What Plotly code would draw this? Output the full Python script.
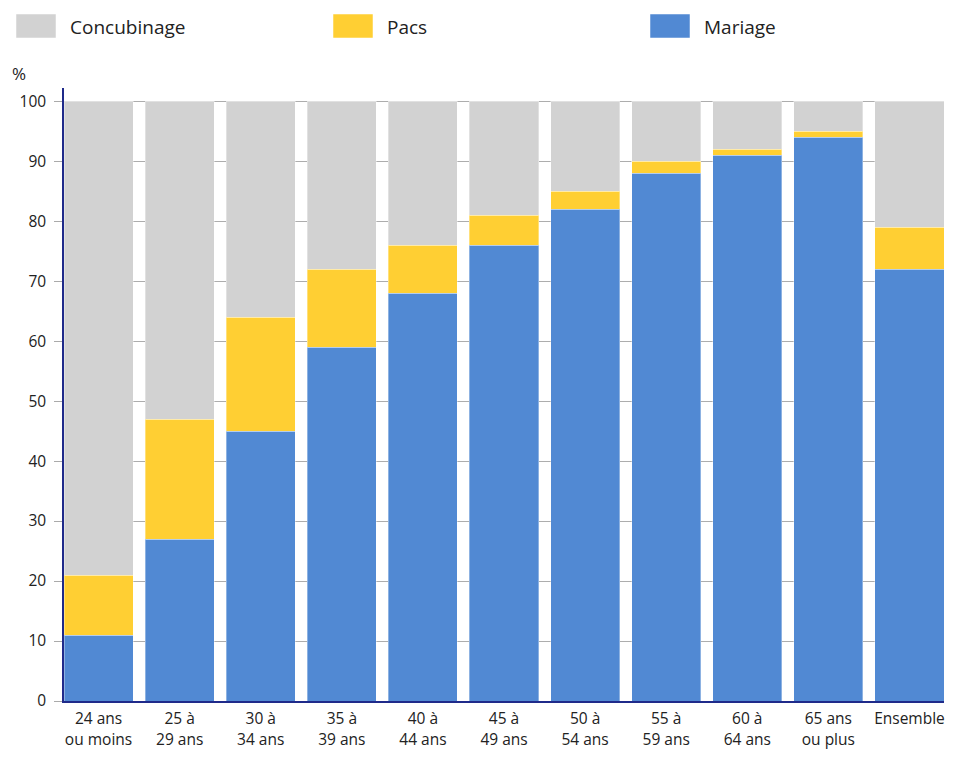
import plotly.graph_objects as go

categories = ["24 ans<br>ou moins", "25 à<br>29 ans", "30 à<br>34 ans", "35 à<br>39 ans",
              "40 à<br>44 ans", "45 à<br>49 ans", "50 à<br>54 ans", "55 à<br>59 ans",
              "60 à<br>64 ans", "65 ans<br>ou plus", "Ensemble"]
mariage = [11, 27, 45, 59, 68, 76, 82, 88, 91, 94, 72]
pacs = [10, 20, 19, 13, 8, 5, 3, 2, 1, 1, 7]
concubinage = [79, 53, 36, 28, 24, 19, 15, 10, 8, 5, 21]
y_ticks = [0, 10, 20, 30, 40, 50, 60, 70, 80, 90, 100]

series = [("Mariage", mariage, "#5189d3"),
          ("Pacs", pacs, "#ffcf33"),
          ("Concubinage", concubinage, "#d2d2d2")]

FONT = "Open Sans"
TICK_SIZE = 15.5
OFF = 8  # page body margin
W, H = 975 - 2 * OFF, 780 - 2 * OFF
# screen-space plot area in the reference
SX0, SX1, SY0, SY1 = 64, 944, 88, 701
L, T = SX0 - OFF, SY0 - OFF
R = W - (SX1 - OFF)
B = H - (SY1 - OFF)
pw, ph = SX1 - SX0, SY1 - SY0

BARGAP = 0.148
HALF = (1 - BARGAP) / 2

def px_x(x):
    return (x - SX0) / pw

def px_y(y):
    return (SY1 - y) / ph

fig = go.Figure()
for name, vals, col in series:
    fig.add_trace(go.Bar(
        x=categories, y=vals, name=name,
        marker=dict(color=col, line=dict(color="rgba(255,255,255,0.35)", width=1)),
        showlegend=False,
    ))

shapes = []
annotations = []
legend_items = [("Concubinage", "#d2d2d2", 16), ("Pacs", "#ffcf33", 333), ("Mariage", "#5189d3", 650)]
for name, col, x0 in legend_items:
    shapes.append(dict(type="rect", xref="paper", yref="paper",
                       x0=px_x(x0), x1=px_x(x0 + 40), y0=px_y(38), y1=px_y(14),
                       fillcolor=col, line=dict(color="rgba(255,255,255,0.5)", width=1)))
    annotations.append(dict(text=name, xref="paper", yref="paper", x=px_x(x0 + 52), y=px_y(27),
                            xanchor="left", yanchor="middle", showarrow=False,
                            font=dict(family=FONT, size=19, color="#222222")))
shapes.append(dict(type="line", xref="paper", yref="paper", x0=px_x(0), x1=px_x(975),
                   y0=px_y(3), y1=px_y(3), line=dict(color="#e3e3e3", width=2)))
annotations.append(dict(text="%", xref="paper", yref="paper", x=px_x(19), y=px_y(73),
                        xanchor="center", yanchor="middle", showarrow=False,
                        font=dict(family=FONT, size=17, color="#222222")))

fig.update_layout(
    barmode="stack",
    bargap=BARGAP,
    width=W, height=H,
    margin=dict(l=L, r=R, t=T, b=B),
    paper_bgcolor="white", plot_bgcolor="white",
    font=dict(family=FONT, size=TICK_SIZE, color="#222222"),
    shapes=shapes, annotations=annotations,
    xaxis=dict(showgrid=False, showline=True, linecolor="#1f2a8a", linewidth=1.5,
               range=[-HALF, len(categories) - 1 + HALF],
               ticks="outside", ticklen=3, tickcolor="rgba(0,0,0,0)",
               tickfont=dict(family=FONT, size=TICK_SIZE, color="#222222")),
    yaxis=dict(range=[0, 102.2], tickvals=y_ticks, showgrid=True,
               gridcolor="rgba(60,60,60,0.42)", gridwidth=1.2,
               showline=True, linecolor="#1f2a8a", linewidth=1.5,
               ticks="outside", ticklen=8, tickcolor="#aaaaaa",
               ticklabelstandoff=5,
               layer="above traces", zeroline=False,
               tickfont=dict(family=FONT, size=TICK_SIZE, color="#222222")),
)

fig.write_html("out.html")
